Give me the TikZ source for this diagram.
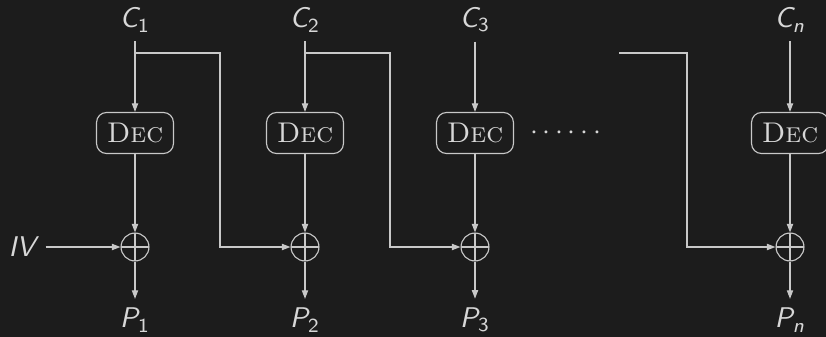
\documentclass[tikz,border=0pt]{standalone}
\usepackage{amsmath}
\usetikzlibrary{arrows.meta}
\definecolor{bgdark}{RGB}{28,28,28}
\definecolor{ink}{RGB}{200,200,200}
\definecolor{txt}{RGB}{215,215,215}
% sans italic variable with sans subscript
\newcommand\svar[2]{{\sffamily\itshape #1}$_{\text{\sffamily\itshape #2}}$}
\newcommand\svarn[2]{{\sffamily\itshape #1}$_{\text{\sffamily #2}}$}
\begin{document}
\begin{tikzpicture}[x=0.3511pt,y=-0.3511pt,
  every node/.style={text=txt},
  wire/.style={draw=ink,line width=0.4pt},
  arr/.style={wire,-{Triangle[length=3pt,width=2.2pt]}},
  decbox/.style={draw=ink,line width=0.4pt,rounded corners=3.5pt,
    minimum width=27pt,minimum height=14.4pt,inner sep=2pt},
  xorop/.style={circle,draw=ink,line width=0.4pt,minimum size=9.8pt,inner sep=0pt,
    path picture={\draw[ink,line width=0.4pt]
      (path picture bounding box.north) -- (path picture bounding box.south)
      (path picture bounding box.west) -- (path picture bounding box.east);}},
  lbl/.style={inner sep=3pt}]
  \fill[bgdark] (0,0) rectangle (826,337);
  \useasboundingbox (0,0) rectangle (826,337);

  % ciphertext inputs
  \node[lbl] (c1) at (135,20) {\svarn{C}{1}};
  \node[lbl] (c2) at (305,20) {\svarn{C}{2}};
  \node[lbl] (c3) at (475,20) {\svarn{C}{3}};
  \node[lbl] (cn) at (790,20) {\svar{C}{n}};

  % decryption blocks
  \node[decbox] (d1) at (135,133) {\textsc{Dec}};
  \node[decbox] (d2) at (305,133) {\textsc{Dec}};
  \node[decbox] (d3) at (475,133) {\textsc{Dec}};
  \node[decbox] (dn) at (790,133) {\textsc{Dec}};
  \node (dots) at (568,133) {$\cdots\cdots$};

  % xor gates
  \node[xorop] (x1) at (135,247) {};
  \node[xorop] (x2) at (305,247) {};
  \node[xorop] (x3) at (475,247) {};
  \node[xorop] (xn) at (790,247) {};

  % plaintext outputs
  \node[lbl] (p1) at (135,320) {\svarn{P}{1}};
  \node[lbl] (p2) at (305,320) {\svarn{P}{2}};
  \node[lbl] (p3) at (475,320) {\svarn{P}{3}};
  \node[lbl] (pn) at (790,320) {\svar{P}{n}};

  \node (iv) at (22,247) {{\sffamily\itshape IV}};

  % main data paths
  \foreach \i in {1,2,3,n}{
    \draw[arr] (c\i) -- (d\i);
    \draw[arr] (d\i) -- (x\i);
    \draw[arr] (x\i) -- (p\i);
  }
  \draw[arr] (iv) -- (x1);

  % chaining of the previous ciphertext block
  \coordinate (b1) at (135,53);
  \coordinate (b2) at (305,53);
  \coordinate (bn) at (619,53);
  \draw[arr] (b1) -- (220,53) |- (x2);
  \draw[arr] (b2) -- (390,53) |- (x3);
  \draw[arr] (bn) -- (687,53) |- (xn);
\end{tikzpicture}
\end{document}
